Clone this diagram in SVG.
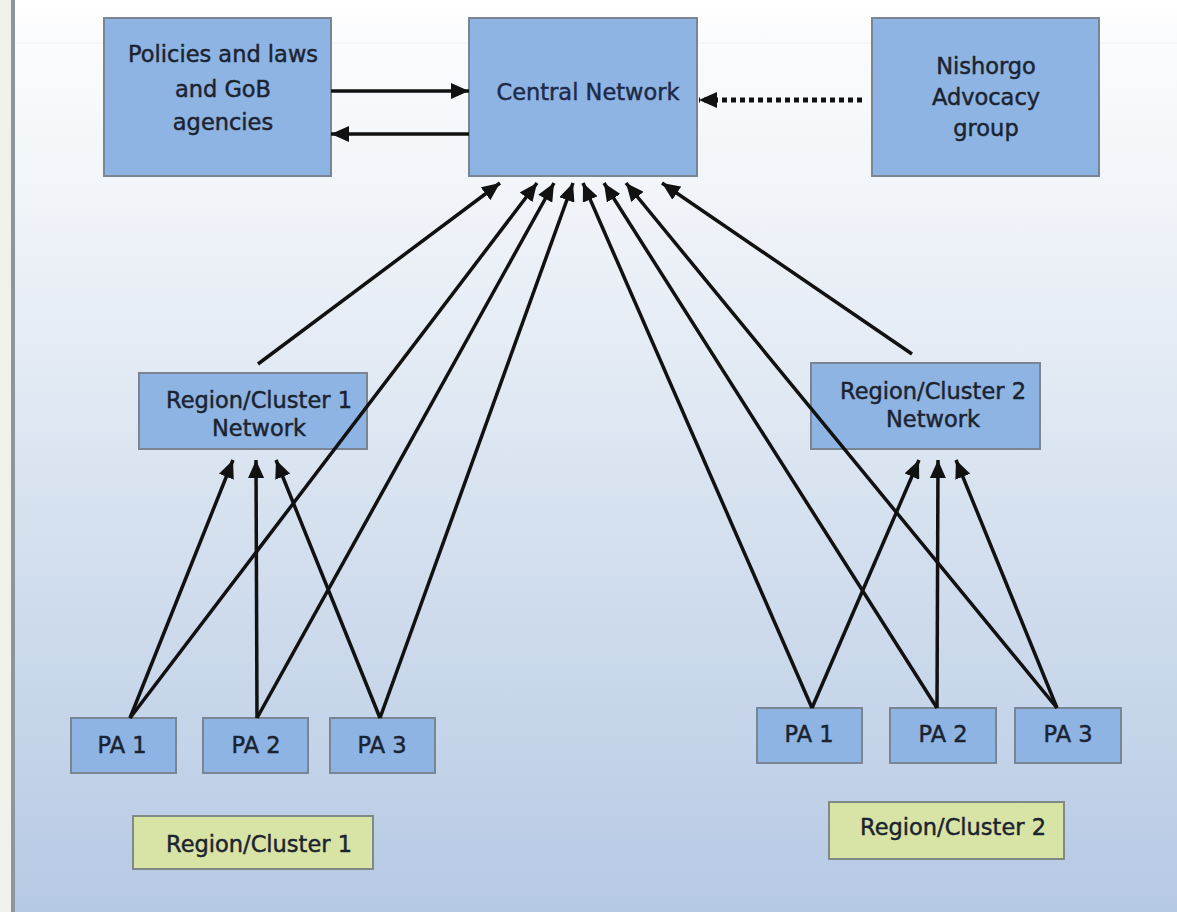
<svg xmlns="http://www.w3.org/2000/svg" width="1177" height="912" viewBox="0 0 1177 912">
<defs>
<linearGradient id="bg" x1="0" y1="0" x2="0" y2="1">
<stop offset="0" stop-color="#ffffff"/>
<stop offset="0.05" stop-color="#fafbfd"/>
<stop offset="0.2" stop-color="#f2f5f9"/>
<stop offset="0.5" stop-color="#dbe5f1"/>
<stop offset="1" stop-color="#b6c9e4"/>
</linearGradient>
<marker id="ah" markerUnits="userSpaceOnUse" markerWidth="20" markerHeight="16" refX="18" refY="8" orient="auto">
<path d="M0,0 L18,8 L0,16 z" fill="#111"/>
</marker>
<style>
.box{fill:#8db4e2;stroke:#7a8594;stroke-width:2}
.green{fill:#d7e4a5;stroke:#7f8a86;stroke-width:2}
.t{font-family:"DejaVu Sans",Verdana,sans-serif;font-size:22.5px;fill:#1c2330;stroke:#1c2330;stroke-width:0.45;text-anchor:middle}
.c{stroke:#111;stroke-width:3.5;fill:none;marker-end:url(#ah)}
.d{stroke:#111;stroke-width:5;fill:none;stroke-dasharray:5 4;marker-end:url(#ah)}
</style>
</defs>
<rect x="0" y="0" width="1177" height="912" fill="url(#bg)"/>
<rect x="0" y="0" width="11" height="912" fill="#f1f0ea"/>
<rect x="11" y="0" width="4" height="912" fill="#8c969c"/>
<line x1="15" y1="43" x2="1177" y2="43" stroke="#eef1f4" stroke-width="1"/>

<g id="policies">
<rect class="box" x="104" y="18" width="227" height="158"/>
<text class="t" x="223" y="62">Policies and laws</text>
<text class="t" x="223" y="97">and GoB</text>
<text class="t" x="223" y="130">agencies</text>
</g>
<g id="central">
<rect class="box" x="469" y="18" width="228" height="158"/>
<text class="t" x="588" y="100" style="fill:#1d2a48;stroke:#1d2a48">Central Network</text>
</g>
<g id="nishorgo">
<rect class="box" x="872" y="18" width="227" height="158"/>
<text class="t" x="986" y="74">Nishorgo</text>
<text class="t" x="986" y="105">Advocacy</text>
<text class="t" x="986" y="136">group</text>
</g>
<g id="region1net">
<rect class="box" x="139" y="373" width="228" height="76"/>
<text class="t" x="259" y="408">Region/Cluster 1</text>
<text class="t" x="259" y="436">Network</text>
</g>
<g id="region2net">
<rect class="box" x="811" y="363" width="229" height="86"/>
<text class="t" x="933" y="399">Region/Cluster 2</text>
<text class="t" x="933" y="427">Network</text>
</g>
<g id="pa1-left">
<rect class="box" x="71" y="718" width="105" height="55"/>
<text class="t" x="122" y="753">PA 1</text>
</g>
<g id="pa2-left">
<rect class="box" x="203" y="718" width="105" height="55"/>
<text class="t" x="256" y="753">PA 2</text>
</g>
<g id="pa3-left">
<rect class="box" x="330" y="718" width="105" height="55"/>
<text class="t" x="382" y="753">PA 3</text>
</g>
<g id="pa1-right">
<rect class="box" x="757" y="708" width="105" height="55"/>
<text class="t" x="809" y="742">PA 1</text>
</g>
<g id="pa2-right">
<rect class="box" x="890" y="708" width="106" height="55"/>
<text class="t" x="943" y="742">PA 2</text>
</g>
<g id="pa3-right">
<rect class="box" x="1015" y="708" width="106" height="55"/>
<text class="t" x="1068" y="742">PA 3</text>
</g>
<g id="cluster1">
<rect class="green" x="133" y="816" width="240" height="53"/>
<text class="t" x="259" y="852">Region/Cluster 1</text>
</g>
<g id="cluster2">
<rect class="green" x="829" y="802" width="235" height="57"/>
<text class="t" x="953" y="835">Region/Cluster 2</text>
</g>

<g id="connectors">
<line class="c" x1="331" y1="91" x2="469" y2="91"/>
<line class="c" x1="469" y1="134" x2="331" y2="134"/>
<line class="d" x1="862" y1="100" x2="699" y2="100"/>
<line class="c" x1="258" y1="364" x2="500" y2="183"/>
<line class="c" x1="130" y1="718" x2="537" y2="183"/>
<line class="c" x1="257" y1="718" x2="554" y2="183"/>
<line class="c" x1="380" y1="718" x2="573" y2="183"/>
<line class="c" x1="130" y1="718" x2="233" y2="460"/>
<line class="c" x1="257" y1="718" x2="256" y2="460"/>
<line class="c" x1="380" y1="718" x2="276" y2="460"/>
<line class="c" x1="812" y1="708" x2="583" y2="183"/>
<line class="c" x1="937" y1="708" x2="604" y2="183"/>
<line class="c" x1="1057" y1="708" x2="626" y2="183"/>
<line class="c" x1="912" y1="354" x2="662" y2="183"/>
<line class="c" x1="812" y1="708" x2="919" y2="460"/>
<line class="c" x1="937" y1="708" x2="938" y2="460"/>
<line class="c" x1="1057" y1="708" x2="956" y2="460"/>
</g>
</svg>
